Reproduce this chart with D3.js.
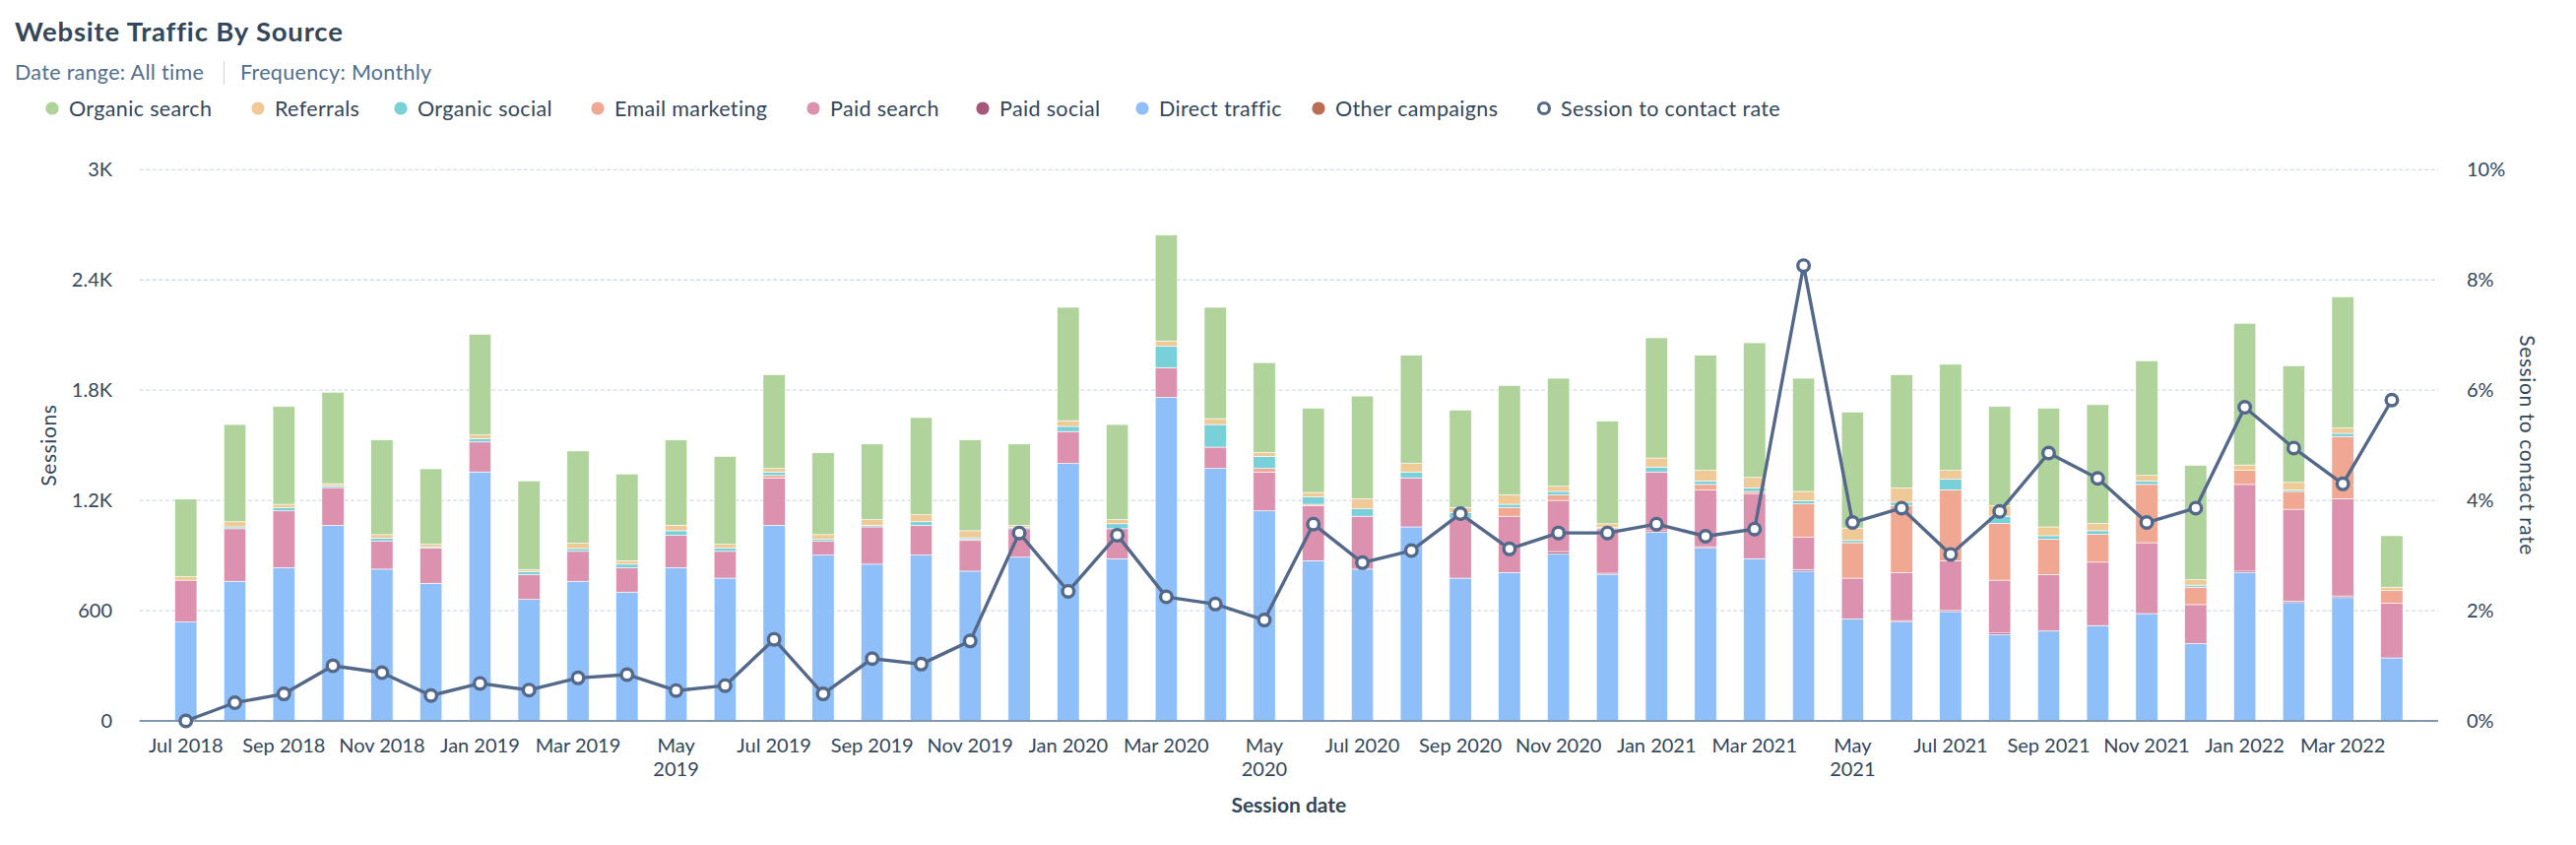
<!DOCTYPE html>
<html>
<head>
<meta charset="utf-8">
<script src="https://cdn.jsdelivr.net/npm/d3@7"></script>
<style>
  html, body { margin: 0; padding: 0; background: #fff; }
  svg { display: block; font-family: Lato, "Open Sans", sans-serif; }
</style>
</head>
<body>
<svg id="chart" width="2616" height="858"></svg>
<script>
// ---------- DATA ----------
const months = [
  "Jul 2018","Aug 2018","Sep 2018","Oct 2018","Nov 2018","Dec 2018",
  "Jan 2019","Feb 2019","Mar 2019","Apr 2019","May 2019","Jun 2019",
  "Jul 2019","Aug 2019","Sep 2019","Oct 2019","Nov 2019","Dec 2019",
  "Jan 2020","Feb 2020","Mar 2020","Apr 2020","May 2020","Jun 2020",
  "Jul 2020","Aug 2020","Sep 2020","Oct 2020","Nov 2020","Dec 2020",
  "Jan 2021","Feb 2021","Mar 2021","Apr 2021","May 2021","Jun 2021",
  "Jul 2021","Aug 2021","Sep 2021","Oct 2021","Nov 2021","Dec 2021",
  "Jan 2022","Feb 2022","Mar 2022","Apr 2022"
];
const directTraffic = [538,760,834,1065,826,749,1355,661,760,701,834,777,1065,902,853,902,815,891,1401,883,1761,1374,1143,872,826,1056,777,807,910,798,1027,940,883,815,555,538,595,470,489,519,584,421,807,644,671,343];
const paidSocial    = [0,0,0,0,0,0,0,0,0,0,0,0,0,0,0,0,0,0,0,0,0,0,0,0,0,0,0,0,11,6,8,8,0,9,0,8,6,8,0,0,0,0,8,8,9,0];
const paidSearch    = [228,286,309,205,152,191,163,135,163,133,176,146,258,76,203,163,167,155,174,163,161,116,212,299,288,267,326,307,279,242,320,310,355,175,222,261,271,288,307,345,386,212,472,500,529,298];
const emailMarketing= [0,0,0,0,0,0,0,0,0,0,0,0,13,0,0,0,6,0,0,0,0,0,19,8,0,0,0,48,30,0,0,29,11,182,193,366,386,309,193,152,317,95,76,97,339,68];
const organicSocial = [0,10,17,9,17,8,19,17,15,19,25,17,19,10,9,19,9,8,28,27,117,123,66,40,40,32,30,17,19,8,27,19,19,17,12,17,57,39,19,19,19,11,0,9,17,0];
const referrals     = [19,28,19,12,19,13,19,11,29,19,30,21,19,26,30,38,38,11,31,22,29,32,21,24,55,46,29,51,28,19,49,57,57,51,68,78,48,57,48,40,30,29,30,40,29,19];
const organicSearch = [422,529,532,498,515,411,548,482,502,472,464,479,510,445,412,529,494,442,617,518,576,606,489,459,559,589,530,595,588,559,654,627,733,616,631,616,578,540,646,646,624,623,771,635,714,280];
const otherCampaigns= [0,0,0,0,0,0,0,0,0,0,0,0,0,0,0,0,0,0,0,0,0,0,0,0,0,0,0,0,0,0,0,0,0,0,0,0,0,0,0,0,0,0,0,0,0,0];
const contactRate   = [0,0.33,0.49,1.00,0.875,0.46,0.68,0.56,0.78,0.84,0.55,0.64,1.48,0.49,1.13,1.03,1.45,3.41,2.35,3.37,2.25,2.12,1.83,3.57,2.87,3.09,3.76,3.12,3.41,3.41,3.57,3.35,3.48,8.26,3.60,3.86,3.02,3.80,4.86,4.40,3.60,3.86,5.69,4.95,4.30,5.82];
const leftTicks  = [0, 600, 1200, 1800, 2400, 3000];
const leftTickLabels = ["0","600","1.2K","1.8K","2.4K","3K"];
const rightTicks = [0, 2, 4, 6, 8, 10];
const rightTickLabels = ["0%","2%","4%","6%","8%","10%"];

// legend order (as in picture) and colours
const legendNames = ["Organic search","Referrals","Organic social","Email marketing","Paid search","Paid social","Direct traffic","Other campaigns","Session to contact rate"];
const legendKeys  = ["organicSearch","referrals","organicSocial","emailMarketing","paidSearch","paidSocial","directTraffic","otherCampaigns","rate"];
const colors = {
  organicSearch: "#b0d39c",
  referrals: "#f0ca96",
  organicSocial: "#78d0d8",
  emailMarketing: "#f1a892",
  paidSearch: "#dc92af",
  paidSocial: "#a65678",
  directTraffic: "#8fbff8",
  otherCampaigns: "#bc6e54",
  rate: "#54698a"
};

// ---------- TABLE ----------
const seriesArrays = {directTraffic, paidSocial, paidSearch, emailMarketing, organicSocial, referrals, organicSearch, otherCampaigns};
const table = months.map((m, i) => {
  const row = {month: m};
  for (const k in seriesArrays) row[k] = seriesArrays[k][i];
  return row;
});
// bottom -> top
const stackKeys = ["otherCampaigns","directTraffic","paidSocial","paidSearch","emailMarketing","organicSocial","referrals","organicSearch"];

// ---------- LAYOUT ----------
const svg = d3.select("#chart");
const plot = {left: 141.7, right: 2476, top: 172.3, bottom: 732};
const textColor = "#33475b";

const x = d3.scaleBand().domain(months).range([plot.left, plot.right]).paddingInner(0.55).paddingOuter(0.72);
const y = d3.scaleLinear().domain([0, 3000]).range([plot.bottom, plot.top]);
const yR = d3.scaleLinear().domain([0, 10]).range([plot.bottom, plot.top]);

// title
svg.append("text").attr("x", 15).attr("y", 42).attr("fill", textColor)
  .attr("font-size", 27.5).attr("font-weight", 700).attr("letter-spacing", 0.8).text("Website Traffic By Source");
svg.append("text").attr("x", 15).attr("y", 81).attr("fill", "#516f90")
  .attr("font-size", 21.5).attr("letter-spacing", 0.3).text("Date range: All time");
svg.append("line").attr("x1", 227.5).attr("x2", 227.5).attr("y1", 62).attr("y2", 86)
  .attr("stroke", "#cbd6e2").attr("stroke-width", 1);
svg.append("text").attr("x", 244).attr("y", 81).attr("fill", "#516f90")
  .attr("font-size", 21.5).attr("letter-spacing", 0.3).text("Frequency: Monthly");

// legend
const legendX = [53, 262, 407, 607, 826, 998, 1160, 1339, 1568];
const lg = svg.append("g");
legendNames.forEach((name, i) => {
  const g = lg.append("g").attr("transform", `translate(${legendX[i]},110)`);
  if (legendKeys[i] === "rate") {
    g.append("circle").attr("r", 5.5).attr("fill", "#fff").attr("stroke", colors.rate).attr("stroke-width", 3.2);
  } else {
    g.append("circle").attr("r", 6.6).attr("fill", colors[legendKeys[i]]);
  }
  g.append("text").attr("x", 17).attr("y", 0).attr("dy", "0.35em").attr("fill", textColor)
    .attr("font-size", 21.5).attr("letter-spacing", 0.35).text(name);
});

// gridlines
const grid = svg.append("g");
grid.selectAll("line").data(leftTicks.slice(1)).join("line")
  .attr("x1", plot.left).attr("x2", plot.right)
  .attr("y1", d => y(d)).attr("y2", d => y(d))
  .attr("stroke", "#d3dbe6").attr("stroke-width", 1.3).attr("stroke-dasharray", "4,2.5");

// left axis labels
const yAxis = d3.axisLeft(y).tickValues(leftTicks).tickFormat((d, i) => leftTickLabels[i]).tickSize(0).tickPadding(0);
const gl = svg.append("g").attr("transform", `translate(114,0)`).call(yAxis);
gl.select(".domain").remove();
gl.selectAll("text").attr("font-size", 20).attr("fill", textColor).attr("font-family", "Lato, sans-serif");

const yAxisR = d3.axisRight(yR).tickValues(rightTicks).tickFormat((d, i) => rightTickLabels[i]).tickSize(0).tickPadding(0);
const gr = svg.append("g").attr("transform", `translate(2505,0)`).call(yAxisR);
gr.select(".domain").remove();
gr.selectAll("text").attr("font-size", 20).attr("fill", textColor).attr("font-family", "Lato, sans-serif");

// bars
const stacked = d3.stack().keys(stackKeys)(table);
const bars = svg.append("g");
stacked.forEach(layer => {
  bars.append("g").attr("fill", colors[layer.key])
    .selectAll("rect").data(layer.filter(d => d[1] - d[0] > 0)).join("rect")
    .attr("x", d => x(d.data.month))
    .attr("width", x.bandwidth())
    .attr("y", d => y(d[1]))
    .attr("height", d => y(d[0]) - y(d[1]))
    .attr("stroke", "#fff").attr("stroke-width", 0.6);
});

// baseline
svg.append("line").attr("x1", plot.left).attr("x2", plot.right)
  .attr("y1", plot.bottom).attr("y2", plot.bottom)
  .attr("stroke", "#8397b0").attr("stroke-width", 2);

// x axis labels (every 2nd month)
const xl = svg.append("g");
months.forEach((m, i) => {
  if (i % 2 !== 0) return;
  const cx = x(m) + x.bandwidth() / 2;
  const t = xl.append("text").attr("x", cx).attr("y", 764).attr("text-anchor", "middle")
    .attr("fill", textColor).attr("font-size", 20);
  const parts = m.split(" ");
  if (parts[0] === "May") {
    t.append("tspan").attr("x", cx).attr("dy", 0).text(parts[0]);
    t.append("tspan").attr("x", cx).attr("dy", 24).text(parts[1]);
  } else {
    t.text(m);
  }
});

// axis titles
svg.append("text").attr("transform", `translate(${plot.left + (plot.right - plot.left) / 2},825)`)
  .attr("text-anchor", "middle").attr("font-size", 21).attr("font-weight", 700).attr("fill", textColor)
  .text("Session date");
svg.append("text").attr("transform", `translate(50,${(plot.top + plot.bottom) / 2}) rotate(-90)`)
  .attr("text-anchor", "middle").attr("dy", "0.35em").attr("font-size", 21).attr("letter-spacing", 0.6).attr("fill", textColor)
  .text("Sessions");
svg.append("text").attr("transform", `translate(2566,${(plot.top + plot.bottom) / 2}) rotate(90)`)
  .attr("text-anchor", "middle").attr("dy", "0.35em").attr("font-size", 21).attr("letter-spacing", 0.6).attr("fill", textColor)
  .text("Session to contact rate");

// rate line
const cxOf = i => x(months[i]) + x.bandwidth() / 2;
const line = d3.line().x((d, i) => cxOf(i)).y(d => yR(d));
svg.append("path").datum(contactRate).attr("d", line)
  .attr("fill", "none").attr("stroke", colors.rate).attr("stroke-width", 3.4).attr("stroke-linejoin", "round");
svg.append("g").selectAll("circle").data(contactRate).join("circle")
  .attr("cx", (d, i) => cxOf(i)).attr("cy", d => yR(d)).attr("r", 5.8)
  .attr("fill", "#fff").attr("stroke", colors.rate).attr("stroke-width", 3.4);
</script>
</body>
</html>
